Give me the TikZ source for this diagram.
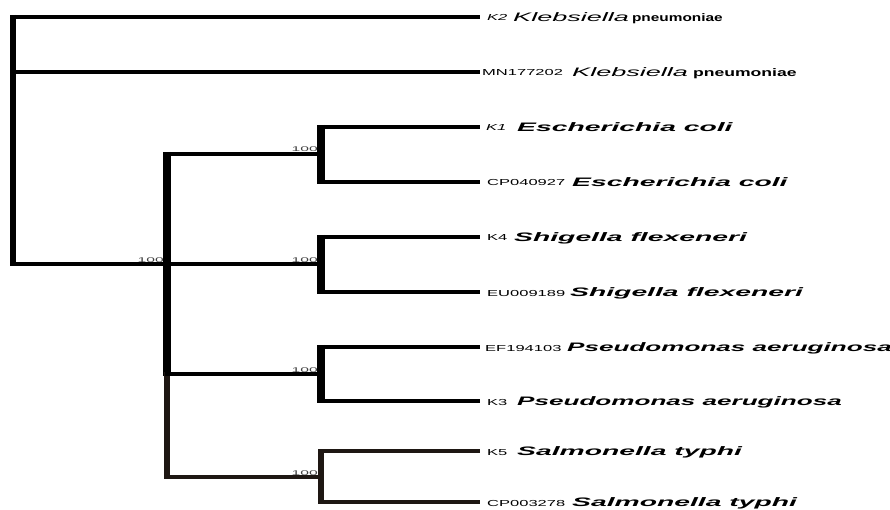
\documentclass[tikz,border=0pt]{standalone}
\usepackage{fontspec}
\setmainfont{Liberation Sans}
\usepackage{graphicx}
\newcommand\accn[2][1.9]{\scalebox{#1}[1]{\fontsize{8.7}{9}\selectfont #2}}
\newcommand\spcn[2][2.3]{\scalebox{#1}[1]{\fontsize{12.3}{12}\selectfont\bfseries\itshape #2}}
\newcommand\boot{\scalebox{2.3}[1]{\fontsize{6.8}{7}\selectfont 100}}
\definecolor{brn}{HTML}{1E1713}
\begin{document}
\begin{tikzpicture}[x=1pt,y=-1pt,
  hline/.style={line width=4.5pt,line cap=rect},
  thinh/.style={line width=3.6pt,line cap=rect,draw=brn},
  vline/.style={line width=8pt,shorten <=-2.2pt,shorten >=-2.2pt},
  rootv/.style={line width=6.5pt,shorten <=-2.2pt,shorten >=-2.2pt},
  thinv/.style={line width=6pt,draw=brn,shorten <=-1.8pt,shorten >=-1.8pt},
  lab/.style={anchor=base west,inner sep=0pt},
  bs/.style={anchor=base east,inner sep=0pt,text=black!75}]
\useasboundingbox (0,0) rectangle (890,510);
% leaf tips
\coordinate (t1) at (478,17);
\coordinate (t2) at (478,72);
\coordinate (t3) at (478,127);
\coordinate (t4) at (478,182);
\coordinate (t5) at (478,237);
\coordinate (t6) at (478,292);
\coordinate (t7) at (478,347);
\coordinate (t8) at (478,401);
\coordinate (t9) at (478,451);
\coordinate (t10) at (478,502);
% internal nodes
\coordinate (root) at (13,264);
\coordinate (in) at (167,264);
\coordinate (c1) at (321,154);
\coordinate (c2) at (321,264);
\coordinate (c3) at (321,374);
\coordinate (c4) at (321,477);
% root
\draw[rootv] (root |- t1) -- (root);
\draw[hline] (root |- t1) -- (t1);
\draw[hline] (root |- t2) -- (t2);
\draw[hline] (root) -- (in);
% inner node
\draw[vline] (in |- c1) -- (in |- c3);
\draw[thinv] (in |- c3) -- (in |- c4);
\draw[hline] (in |- c1) -- (c1);
\draw[hline] (in) -- (c2);
\draw[hline] (in |- c3) -- (c3);
\draw[thinh] (in |- c4) -- (c4);
% clades
\draw[vline] (c1 |- t3) -- (c1 |- t4);
\draw[hline] (c1 |- t3) -- (t3);
\draw[hline] (c1 |- t4) -- (t4);
\draw[vline] (c2 |- t5) -- (c2 |- t6);
\draw[hline] (c2 |- t5) -- (t5);
\draw[hline] (c2 |- t6) -- (t6);
\draw[vline] (c3 |- t7) -- (c3 |- t8);
\draw[hline] (c3 |- t7) -- (t7);
\draw[hline] (c3 |- t8) -- (t8);
\draw[thinv] (c4 |- t9) -- (c4 |- t10);
\draw[thinh] (c4 |- t9) -- (t9);
\draw[thinh] (c4 |- t10) -- (t10);
% bootstrap
\node[bs] (b0) at (164,262) {\boot};
\node[bs] (b1) at (318,152) {\boot};
\node[bs] (b2) at (318,262) {\boot};
\node[bs] (b3) at (318,372) {\boot};
\node[bs] (b4) at (318,475) {\boot};
% labels
\node[lab] (a1) at (487,21) {\accn{\itshape K2}};
\node[lab] (s1) at (513,21.5) {\scalebox{2.2}[1]{\fontsize{12.3}{12}\selectfont\itshape Klebsiella}\hspace{3pt}\scalebox{1.4}[1]{\fontsize{11}{11}\selectfont\bfseries pneumoniae}};
\node[lab] (a2) at (482,76) {\accn{MN177202}};
\node[lab] (s2) at (572,76.5) {\scalebox{2.2}[1]{\fontsize{12.3}{12}\selectfont\itshape Klebsiella}\hspace{5pt}\scalebox{1.6}[1]{\fontsize{11}{11}\selectfont\bfseries pneumoniae}};
\node[lab] (a3) at (486,131) {\accn{\itshape K1}};
\node[lab] (s3) at (517,131.5) {\spcn{Escherichia coli}};
\node[lab] (a4) at (487,186) {\accn{CP040927}};
\node[lab] (s4) at (572,186.5) {\spcn{Escherichia coli}};
\node[lab] (a5) at (487,241) {\accn{K4}};
\node[lab] (s5) at (514,241.5) {\spcn{Shigella flexeneri}};
\node[lab] (a6) at (487,296) {\accn{EU009189}};
\node[lab] (s6) at (570,296.5) {\spcn{Shigella flexeneri}};
\node[lab] (a7) at (485,351) {\accn{EF194103}};
\node[lab] (s7) at (567,351.5) {\spcn[2.12]{Pseudomonas aeruginosa}};
\node[lab] (a8) at (487,405) {\accn{K3}};
\node[lab] (s8) at (517,405.5) {\spcn[2.12]{Pseudomonas aeruginosa}};
\node[lab] (a9) at (487,455) {\accn{K5}};
\node[lab] (s9) at (517,455.5) {\spcn{Salmonella typhi}};
\node[lab] (a10) at (487,506) {\accn{CP003278}};
\node[lab] (s10) at (572,506.5) {\spcn{Salmonella typhi}};
\end{tikzpicture}
\end{document}
